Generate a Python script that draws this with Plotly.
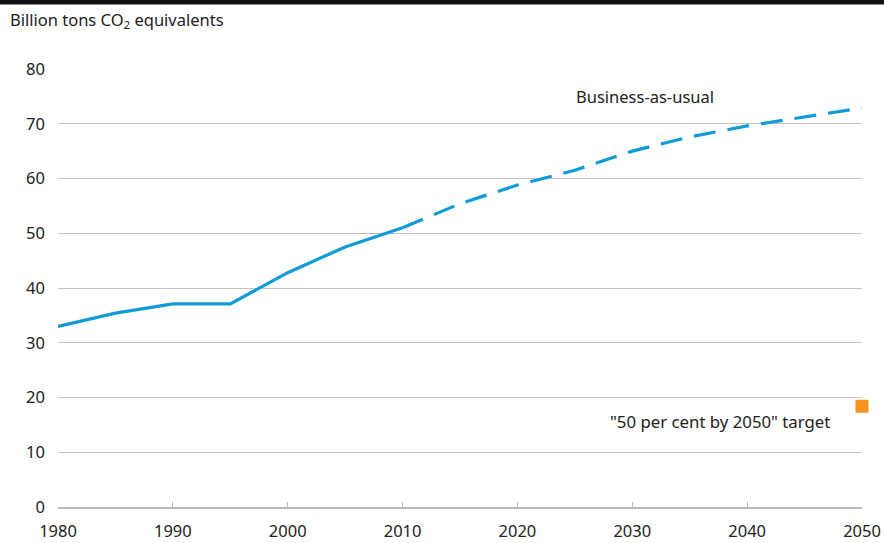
import plotly.graph_objects as go

# historical emissions (solid)
hist_years = [1980, 1985, 1990, 1995, 2000, 2005, 2010]
hist_values = [33.0, 35.4, 37.1, 37.1, 42.8, 47.5, 51.0]

# business-as-usual projection (dashed)
bau_years = [2010, 2015, 2020, 2025, 2030, 2035, 2040, 2045, 2050]
bau_values = [51.0, 55.4, 58.8, 61.5, 65.0, 67.6, 69.6, 71.2, 72.9]

# target point
target_year = [2050]
target_value = [18.4]

x_ticks = [1980, 1990, 2000, 2010, 2020, 2030, 2040, 2050]
y_ticks = [0, 10, 20, 30, 40, 50, 60, 70, 80]

BLUE = "#0f9bd7"
ORANGE = "#f7941d"
FONT = "Noto Sans"
TXT = dict(size=16.5, color="#222222", family=FONT)

fig = go.Figure()

fig.add_trace(go.Scatter(
    x=hist_years, y=hist_values, mode="lines",
    line=dict(color=BLUE, width=3.2), hoverinfo="skip",
))
fig.add_trace(go.Scatter(
    x=bau_years, y=bau_values, mode="lines",
    line=dict(color=BLUE, width=3.2, dash="22px,12px"), hoverinfo="skip",
))
fig.add_trace(go.Scatter(
    x=target_year, y=target_value, mode="markers",
    marker=dict(color=ORANGE, size=13, symbol="square"),
    cliponaxis=False, hoverinfo="skip",
))

fig.add_annotation(x=2031.1, y=74.9, text="Business-as-usual", showarrow=False, font=TXT)
fig.add_annotation(x=2037.6, y=15.6, text='"50 per cent by 2050" target', showarrow=False,
                   font=dict(size=16.8, color="#222222", family=FONT))
fig.add_annotation(xref="paper", yref="paper", x=-0.062, y=1.112, xanchor="left",
                   yanchor="middle", text="Billion tons CO<sub>2</sub> equivalents",
                   showarrow=False, font=TXT)

# black rule across the top
fig.add_shape(type="rect", xref="paper", yref="paper", x0=-0.1, x1=1.05,
              y0=1.147, y1=1.17, fillcolor="#111111", line=dict(width=0), layer="above")

fig.update_xaxes(
    range=[1980, 2050], tickvals=x_ticks, showgrid=False, zeroline=False,
    showline=True, linecolor="#b8b8b8", linewidth=1.5,
    ticks="inside", ticklen=5, tickcolor="#b8b8b8",
    ticklabelstandoff=8, automargin=False, tickfont=TXT,
)
fig.update_yaxes(
    range=[0, 80], tickvals=y_ticks, showgrid=True, gridcolor="#c4c4c4", gridwidth=1.2,
    zeroline=False, showline=False, ticks="", ticklabelstandoff=12,
    automargin=False, tickfont=TXT,
)

fig.update_layout(
    width=884, height=543,
    margin=dict(l=58, r=22, t=69, b=36),
    plot_bgcolor="white", paper_bgcolor="white",
    showlegend=False,
    font=dict(family=FONT),
)

fig.write_html("out.html", config={"displayModeBar": False},
               post_script="document.body.style.margin='0';")
